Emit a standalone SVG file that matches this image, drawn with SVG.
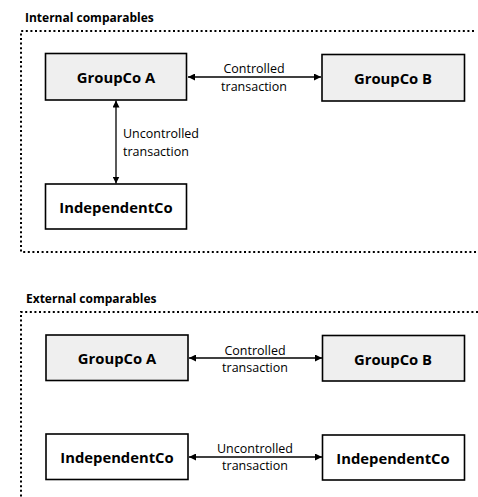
<svg xmlns="http://www.w3.org/2000/svg" width="478" height="497" viewBox="0 0 478 497">
<style>
.title{font-family:"Open Sans","Noto Sans",sans-serif;font-weight:bold;font-size:12px;fill:#000}
.box{stroke:#000;stroke-width:1.6;fill:#fff}
.grey{fill:#efefef}
.lbl{font-family:"Open Sans","Noto Sans",sans-serif;font-weight:bold;font-size:14.8px;fill:#000;text-anchor:middle;dominant-baseline:central}
.edge{font-family:"Open Sans","Noto Sans",sans-serif;font-size:12.5px;fill:#000;dominant-baseline:central}
.frame{fill:none;stroke:#000;stroke-width:2;stroke-dasharray:2 2.6}
.conn{stroke:#000;stroke-width:1.3;fill:none;marker-start:url(#ah);marker-end:url(#ah)}
</style>
<defs>
<marker id="ah" viewBox="0 0 10 10" refX="10" refY="5" markerWidth="7" markerHeight="7" markerUnits="userSpaceOnUse" orient="auto-start-reverse">
<path d="M0,0 L10,5 L0,10 z" fill="#000"/>
</marker>
</defs>
<rect width="478" height="497" fill="#fff"/>
<g id="frames">
<text class="title" x="25" y="22">Internal comparables</text>
<path class="frame" d="M474,31 H21 V252 H478"/>
<text class="title" x="26" y="303">External comparables</text>
<path class="frame" d="M478,312 H21 V497"/>
</g>
<g id="connectors">
<line class="conn" x1="188" y1="77" x2="321" y2="77"/>
<text class="edge" x="254" y="68" text-anchor="middle">Controlled</text>
<text class="edge" x="254" y="86" text-anchor="middle">transaction</text>
<line class="conn" x1="116" y1="100.5" x2="116" y2="183.5"/>
<text class="edge" x="123" y="133">Uncontrolled</text>
<text class="edge" x="123" y="151">transaction</text>
<line class="conn" x1="189" y1="358" x2="322" y2="358"/>
<text class="edge" x="255" y="350" text-anchor="middle">Controlled</text>
<text class="edge" x="255" y="367" text-anchor="middle">transaction</text>
<line class="conn" x1="189" y1="457" x2="322" y2="457"/>
<text class="edge" x="255" y="448" text-anchor="middle">Uncontrolled</text>
<text class="edge" x="255" y="465" text-anchor="middle">transaction</text>
</g>
<g id="int-groupco-a">
<rect class="box grey" x="45.5" y="53.5" width="141" height="46.5"/>
<text class="lbl" x="116" y="77">GroupCo A</text>
</g>
<g id="int-groupco-b">
<rect class="box grey" x="322" y="54.5" width="142.5" height="46.5"/>
<text class="lbl" x="393" y="78">GroupCo B</text>
</g>
<g id="int-independentco">
<rect class="box" x="45.5" y="184" width="141" height="45"/>
<text class="lbl" x="116" y="207">IndependentCo</text>
</g>
<g id="ext-groupco-a">
<rect class="box grey" x="46" y="335" width="142" height="45.5"/>
<text class="lbl" x="117" y="358">GroupCo A</text>
</g>
<g id="ext-groupco-b">
<rect class="box grey" x="322.5" y="335.5" width="142" height="45.5"/>
<text class="lbl" x="393" y="358.5">GroupCo B</text>
</g>
<g id="ext-independentco-1">
<rect class="box" x="46" y="434" width="142" height="45.5"/>
<text class="lbl" x="117" y="457">IndependentCo</text>
</g>
<g id="ext-independentco-2">
<rect class="box" x="322.5" y="435" width="142" height="45"/>
<text class="lbl" x="393" y="457.5">IndependentCo</text>
</g>
</svg>
